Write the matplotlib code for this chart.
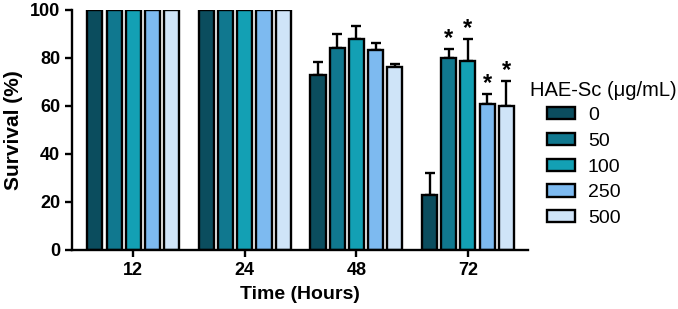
import numpy as np
import matplotlib
matplotlib.use("Agg")
import matplotlib.pyplot as plt

plt.rcParams['font.family'] = ['Liberation Sans', 'DejaVu Sans']

times = ["12", "24", "48", "72"]
doses = ["0", "50", "100", "250", "500"]
colors = ['#0b4d5e', '#10788f', '#13a0b4', '#7dbaf0', '#cfe4f8']

# survival (%) per dose, over the four time points
survival = {
  "0":   [100, 100, 72.9, 22.9],
  "50":  [100, 100, 84.3, 80.1],
  "100": [100, 100, 87.9, 78.7],
  "250": [100, 100, 83.3, 60.8],
  "500": [100, 100, 76.4, 60.1],
}
err = {
  "0":   [0, 0, 5.4, 9.0],
  "50":  [0, 0, 5.7, 3.5],
  "100": [0, 0, 5.4, 9.2],
  "250": [0, 0, 3.1, 4.1],
  "500": [0, 0, 1.1, 10.3],
}
# significance marks at 72 h
star = {"0": [0, 0, 0, 0], "50": [0, 0, 0, 1], "100": [0, 0, 0, 1],
        "250": [0, 0, 0, 1], "500": [0, 0, 0, 1]}

fig = plt.figure(figsize=(6.78, 3.09), dpi=100)
ax = fig.add_axes([0.106, 0.191, 0.673, 0.777])

X = np.arange(len(times))
step = 0.172
width = 0.135
for i, d in enumerate(doses):
  pos = X + (i - 2) * step
  ax.bar(pos, survival[d], width, color=colors[i], edgecolor='black',
         linewidth=1.7, label=d, zorder=2)
  e = np.array(err[d])
  mask = e > 0
  ax.errorbar(pos[mask], np.array(survival[d])[mask], yerr=[np.zeros(mask.sum()), e[mask]],
              fmt='none', ecolor='black', elinewidth=1.7, capsize=3.5, capthick=1.7, zorder=1)
  for j in range(len(times)):
    if star[d][j]:
      ax.text(pos[j], survival[d][j] + err[d][j] - 0.5, "*", ha='center', va='bottom',
              fontsize=17, fontweight='bold')

ax.set_xlim(-0.55, 3.54)
ax.set_ylim(0, 100)
ax.set_yticks([0, 20, 40, 60, 80, 100])
ax.set_xticks(X)
ax.set_xticklabels(times)
for s in ['top', 'right']:
  ax.spines[s].set_visible(False)
for s in ['left', 'bottom']:
  ax.spines[s].set_linewidth(1.7)
ax.tick_params(width=1.7, length=5, labelsize=13)
for lab in ax.get_xticklabels() + ax.get_yticklabels():
  lab.set_fontweight('bold')
ax.set_xlabel("Time (Hours)", fontsize=14, fontweight='bold', labelpad=5)
ax.set_ylabel("Survival (%)", fontsize=15, fontweight='bold', labelpad=5)

# legend title sits left of the indented handles
fig.text(530/678, 1 - 90/309, "HAE-Sc (\u03bcg/mL)", fontsize=14.5, ha='left', va='center')
leg = fig.legend(*ax.get_legend_handles_labels(), loc='upper left',
                 bbox_to_anchor=(547/678, 1 - 107/309), frameon=False, fontsize=14,
                 handlelength=1.45, handleheight=0.6, labelspacing=0.45,
                 handletextpad=0.65, borderaxespad=0, borderpad=0)

fig.savefig("out.png", dpi=100)
